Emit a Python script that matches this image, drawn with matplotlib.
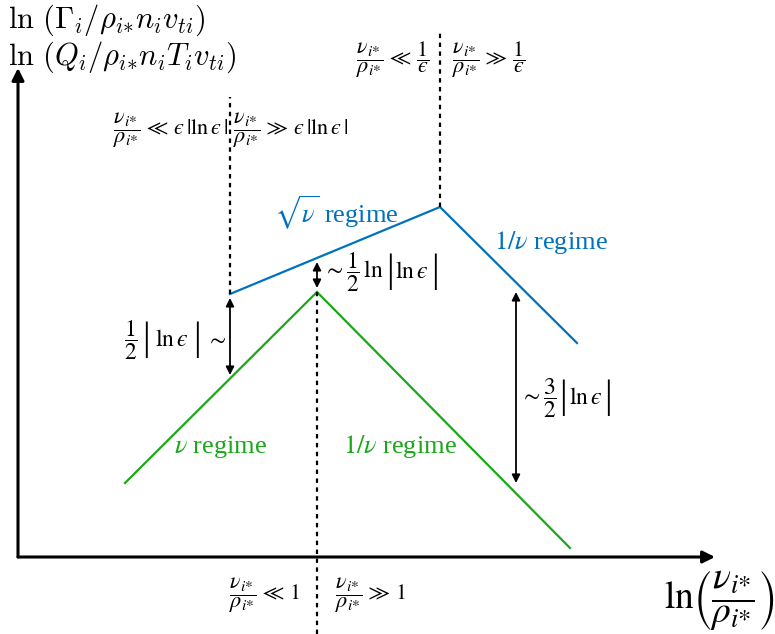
import matplotlib
matplotlib.use("Agg")
import matplotlib.pyplot as plt

# Schematic coordinates: x = ln(nu/rho) axis, y = ln(flux) axis (arbitrary units)
green_x = [107, 299, 552]
green_y = [74, 265, 9]
blue_x = [212, 422, 559]
blue_y = [263, 350, 214]

# Vertical dashed guides: (x, y_bottom, y_top)
guides = [(212, 263, 460), (299, -77, 265), (422, 350, 527)]

# Double-headed gap arrows: (x, y_from, y_to)
gaps = [(212, 259, 182), (299, 295, 269), (498, 265, 74)]

BLUE = "#0072BD"
GREEN = "#1AA81A"

fig = plt.figure(figsize=(7.75, 6.34), dpi=100)
ax = fig.add_axes([0, 0, 1, 1])
ax.set_xlim(-18, 757)
ax.set_ylim(-77, 557)
ax.axis("off")

# axes with arrows
ax.annotate("", xy=(697, 0), xytext=(0, 0),
            arrowprops=dict(arrowstyle="-|>", lw=2.2, color="black",
                            mutation_scale=18, shrinkA=0, shrinkB=0))
ax.annotate("", xy=(0, 489), xytext=(0, 0),
            arrowprops=dict(arrowstyle="-|>", lw=2.2, color="black",
                            mutation_scale=18, shrinkA=0, shrinkB=0))

ax.plot(green_x, green_y, color=GREEN, lw=1.6, solid_joinstyle="miter")
ax.plot(blue_x, blue_y, color=BLUE, lw=1.6, solid_joinstyle="miter")

for gx, y0, y1 in guides:
    ax.plot([gx, gx], [y0, y1], color="black", lw=1.6, linestyle=(0, (2, 2)))

for gx, y0, y1 in gaps:
    ax.annotate("", xy=(gx, y1), xytext=(gx, y0),
                arrowprops=dict(arrowstyle="<|-|>", lw=1.3, color="black",
                                mutation_scale=12, shrinkA=0, shrinkB=0))

serif = dict(family="Liberation Serif", math_fontfamily="stix")
cm = dict(math_fontfamily="cm")

# y-axis labels
ax.text(-10, 537, r"$\ln\,(\Gamma_i/\rho_{i{*}}n_iv_{ti})$", fontsize=22,
        ha="left", va="center", **cm)
ax.text(-10, 500, r"$\ln\,(Q_i/\rho_{i{*}}n_iT_iv_{ti})$", fontsize=22,
        ha="left", va="center", **cm)

# x-axis label
ax.text(757, -43, r"$\ln\!\left(\dfrac{\nu_{i{*}}}{\rho_{i{*}}}\right)$", fontsize=27,
        ha="right", va="center", **serif)

frac = r"\dfrac{\nu_{i{*}}}{\rho_{i{*}}}"
eps = "\u03f5"
fs = 16
ax.text(412, 497, rf"${frac}\,\ll\,\dfrac{{1}}{{{eps}}}$", fontsize=fs,
        ha="right", va="center", **serif)
ax.text(434, 497, rf"${frac}\,\gg\,\dfrac{{1}}{{{eps}}}$", fontsize=fs,
        ha="left", va="center", **serif)
ax.text(210, 427, rf"${frac}\,\ll\,{eps}\,|\ln{eps}\,|$", fontsize=fs,
        ha="right", va="center", **serif)
ax.text(215, 427, rf"${frac}\,\gg\,{eps}\,|\ln{eps}\,|$", fontsize=fs,
        ha="left", va="center", **serif)
ax.text(282, -38, rf"${frac}\,\ll\,1$", fontsize=fs, ha="right", va="center", **serif)
ax.text(317, -38, rf"${frac}\,\gg\,1$", fontsize=fs, ha="left", va="center", **serif)

# regime labels
rfs = 19
ax.text(318, 344, r"$\sqrt{\nu}$ regime", fontsize=rfs, color=BLUE,
        ha="center", va="center", **serif)
ax.text(533, 314, r"$1/\nu$ regime", fontsize=rfs, color=BLUE,
        ha="center", va="center", **serif)
ax.text(203, 110, r"$\nu$ regime", fontsize=rfs, color=GREEN,
        ha="center", va="center", **serif)
ax.text(382, 110, r"$1/\nu$ regime", fontsize=rfs, color=GREEN,
        ha="center", va="center", **serif)


def chain(pieces, x, y, align="left", gap=1.5):
    """Lay out text pieces side by side, each given as (text, fontsize)."""
    seq = pieces if align == "left" else pieces[::-1]
    anchor = (1, 0.5) if align == "left" else (0, 0.5)
    sign = 1 if align == "left" else -1
    prev = None
    for s, size in seq:
        if prev is None:
            prev = ax.text(x, y, s, fontsize=size, ha=align, va="center", **serif)
        else:
            prev = ax.annotate(s, xy=anchor, xycoords=prev,
                               xytext=(sign * gap, 0), textcoords="offset points",
                               fontsize=size, ha=align, va="center", **serif)


gfs = 17
bar = ("|", 28)
lneps = (rf"$\ln{eps}$", gfs)
chain([(r"$\dfrac{1}{2}$", gfs), bar, lneps, bar, (r"$\sim$", gfs)],
      208, 217, align="right", gap=3.5)
chain([(r"$\sim\dfrac{1}{2}\,\ln$", gfs), bar, lneps, bar], 305, 285)
chain([(r"$\sim\dfrac{3}{2}$", gfs), bar, lneps, bar], 502, 159)

fig.savefig("out.png", dpi=100)
